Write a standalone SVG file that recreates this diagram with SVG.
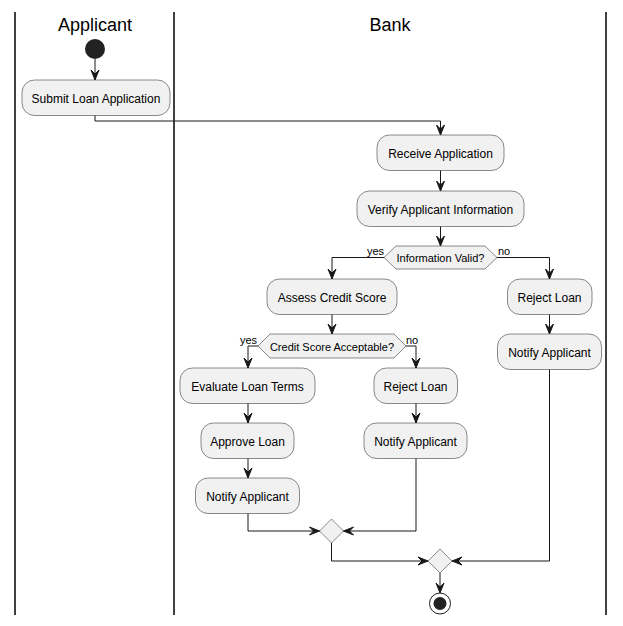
<svg xmlns="http://www.w3.org/2000/svg" width="623" height="626" viewBox="0 0 623 626">
<style>
.lane{stroke:#000;stroke-width:1.5;fill:none}
.title{font-family:"Liberation Sans",Arial,sans-serif;font-size:18px;fill:#000;text-anchor:middle}
.act rect,.act polygon{fill:#F1F1F1;stroke:#181818;stroke-width:0.5}
.act text{font-family:"Liberation Sans",Arial,sans-serif;font-size:12px;fill:#000;text-anchor:middle}
.edge path{fill:none;stroke:#181818;stroke-width:1}
.edge polygon{fill:#181818;stroke:#181818;stroke-width:1}
.lbl{font-family:"Liberation Sans",Arial,sans-serif;font-size:11px;fill:#000}
</style>
<rect width="623" height="626" fill="#fff"/>
<g id="lanes">
<line class="lane" x1="15" y1="12" x2="15" y2="615"/>
<line class="lane" x1="174" y1="12" x2="174" y2="615"/>
<line class="lane" x1="606" y1="12" x2="606" y2="615"/>
<text class="title" x="95" y="31">Applicant</text>
<text class="title" x="390" y="31">Bank</text>
</g>
<g id="start"><circle cx="95" cy="49" r="10" fill="#222"/></g>
<g id="submit" class="act"><rect x="22" y="80" width="148" height="35.5" rx="12.5"/><text x="96" y="103">Submit Loan Application</text></g>
<g id="receive" class="act"><rect x="377" y="135" width="127" height="35.5" rx="12.5"/><text x="440.5" y="158">Receive Application</text></g>
<g id="verify" class="act"><rect x="357" y="191" width="167" height="35.5" rx="12.5"/><text x="440.5" y="214">Verify Applicant Information</text></g>
<g id="infoValid" class="act"><polygon points="384,257.5 396,246 485,246 497,257.5 485,269 396,269"/><text x="440.5" y="262" style="font-size:11px">Information Valid?</text></g>
<g id="assess" class="act"><rect x="267" y="279" width="130" height="35.5" rx="12.5"/><text x="332" y="302">Assess Credit Score</text></g>
<g id="reject1" class="act"><rect x="507.5" y="279" width="84.5" height="35.5" rx="12.5"/><text x="549.5" y="302">Reject Loan</text></g>
<g id="notify1" class="act"><rect x="497.5" y="334" width="104" height="35.5" rx="12.5"/><text x="549.5" y="357">Notify Applicant</text></g>
<g id="creditOk" class="act"><polygon points="258,346 270,334 394,334 406,346 394,358 270,358"/><text x="332" y="350.5" style="font-size:11px">Credit Score Acceptable?</text></g>
<g id="evaluate" class="act"><rect x="180" y="368" width="135" height="35.5" rx="12.5"/><text x="247.5" y="391">Evaluate Loan Terms</text></g>
<g id="reject2" class="act"><rect x="374" y="368" width="83.5" height="35.5" rx="12.5"/><text x="415.5" y="391">Reject Loan</text></g>
<g id="approve" class="act"><rect x="201" y="423" width="93" height="35.5" rx="12.5"/><text x="247.5" y="446">Approve Loan</text></g>
<g id="notify2" class="act"><rect x="364" y="423" width="103" height="35.5" rx="12.5"/><text x="415.5" y="446">Notify Applicant</text></g>
<g id="notify3" class="act"><rect x="195.5" y="478" width="104" height="35.5" rx="12.5"/><text x="247.5" y="501">Notify Applicant</text></g>
<g id="merge1" class="act"><polygon points="331.5,519 343.5,531 331.5,543 319.5,531"/></g>
<g id="merge2" class="act"><polygon points="440,549 452,561 440,573 428,561"/></g>
<g id="end"><circle cx="440" cy="603.5" r="10.5" fill="none" stroke="#222" stroke-width="1"/><circle cx="440" cy="603.5" r="6.5" fill="#222"/></g>
<g id="connectors" class="edge">
<path d="M95,59 V80"/><polygon points="91,70 95,80 99,70 95,74"/>
<path d="M95,115.5 V121 H440.5 V135"/><polygon points="436.5,125 440.5,135 444.5,125 440.5,129"/>
<path d="M440.5,170.5 V191"/><polygon points="436.5,181 440.5,191 444.5,181 440.5,185"/>
<path d="M440.5,226.5 V246"/><polygon points="436.5,236 440.5,246 444.5,236 440.5,240"/>
<path d="M384,257.5 H332 V279"/><polygon points="328,269 332,279 336,269 332,273"/>
<path d="M497,257.5 H549.5 V279"/><polygon points="545.5,269 549.5,279 553.5,269 549.5,273"/>
<path d="M549.5,314.5 V334"/><polygon points="545.5,324 549.5,334 553.5,324 549.5,328"/>
<path d="M332,314.5 V334"/><polygon points="328,324 332,334 336,324 332,328"/>
<path d="M258,346 H248 V368"/><polygon points="244,358 248,368 252,358 248,362"/>
<path d="M406,346 H416 V368"/><polygon points="412,358 416,368 420,358 416,362"/>
<path d="M248,403.5 V423"/><polygon points="244,413 248,423 252,413 248,417"/>
<path d="M248,458.5 V478"/><polygon points="244,468 248,478 252,468 248,472"/>
<path d="M416,403.5 V423"/><polygon points="412,413 416,423 420,413 416,417"/>
<path d="M248,513.5 V531 H319.5"/><polygon points="309.5,527 319.5,531 309.5,535 313.5,531"/>
<path d="M416,458.5 V531 H343.5"/><polygon points="353.5,527 343.5,531 353.5,535 349.5,531"/>
<path d="M331.5,543 V561 H428"/><polygon points="418,557 428,561 418,565 422,561"/>
<path d="M549.5,369.5 V561 H452"/><polygon points="462,557 452,561 462,565 458,561"/>
<path d="M440,573 V593"/><polygon points="436,583 440,593 444,583 440,587"/>
<text class="lbl" x="367" y="255">yes</text>
<text class="lbl" x="498" y="255">no</text>
<text class="lbl" x="240" y="344">yes</text>
<text class="lbl" x="406" y="344">no</text>
</g>
</svg>
